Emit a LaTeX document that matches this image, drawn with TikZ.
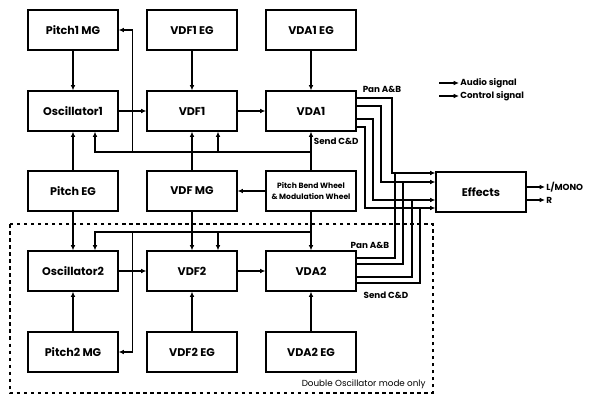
\documentclass[tikz,border=0pt]{standalone}
\usepackage{fontspec}
\setmainfont{Poppins}
\usetikzlibrary{arrows.meta,calc}

\begin{document}
\begin{tikzpicture}[x=0.03cm,y=-0.03cm,>={Latex[length=4.5pt,width=4pt]},
  blk/.style={draw,line width=1pt,minimum width=2.7cm,minimum height=1.2cm,font=\bfseries\fontsize{9.5}{11}\selectfont},
  ctl/.style={->,line width=0.9pt},
  aud/.style={->,line width=1.2pt},
  bus/.style={line width=1.8pt},
  lbl/.style={font=\bfseries\fontsize{7.5}{9}\selectfont,inner sep=1pt}]
  \useasboundingbox (0,0) rectangle (595,395);
  % first oscillator
  \node[blk](p1mg) at (73,30){Pitch1 MG};
  \node[blk](vdf1eg) at (192,30){VDF1 EG};
  \node[blk](vda1eg) at (311,30){VDA1 EG};
  \node[blk](osc1) at (73,111){Oscillator1};
  \node[blk](vdf1) at (192,111){VDF1};
  \node[blk](vda1) at (311,111){VDA1};
  % shared controls
  \node[blk](peg) at (73,191){Pitch EG};
  \node[blk](vdfmg) at (192,191){VDF MG};
  \node[blk,align=center,font=\bfseries\fontsize{6.5}{9}\selectfont](pbw) at (311,191){Pitch Bend Wheel\\\& Modulation Wheel};
  % second oscillator
  \node[blk](osc2) at (73,271){Oscillator2};
  \node[blk](vdf2) at (192,271){VDF2};
  \node[blk](vda2) at (311,271){VDA2};
  \node[blk](p2mg) at (73,352){Pitch2 MG};
  \node[blk](vdf2eg) at (192,352){VDF2 EG};
  \node[blk](vda2eg) at (311,352){VDA2 EG};
  \node[blk](fx) at (481,192){Effects};

  % audio path
  \draw[aud] (osc1)--(vdf1);
  \draw[aud] (vdf1)--(vda1);
  \draw[aud] (osc2)--(vdf2);
  \draw[aud] (vdf2)--(vda2);
  % control inputs
  \draw[ctl] (p1mg)--(osc1);
  \draw[ctl] (vdf1eg)--(vdf1);
  \draw[ctl] (vda1eg)--(vda1);
  \draw[ctl] (peg)--(osc1);
  \draw[ctl] (peg)--(osc2);
  \draw[ctl] (p2mg)--(osc2);
  \draw[ctl] (vdf2eg)--(vdf2);
  \draw[ctl] (vda2eg)--(vda2);
  \draw[ctl] (vdfmg)--(vdf1);
  \draw[ctl] (vdfmg)--(vdf2);
  \draw[ctl] (pbw)--(vdfmg);
  \draw[ctl] (pbw)--(vda1) node[pos=0.75,right,lbl,xshift=1pt]{Send C\&D};
  \draw[ctl] (pbw)--(vda2);
  % wheel bus, upper
  \coordinate (ba) at (311,152);
  \draw[ctl] (ba) -| ($(osc1.south)+(22,0)$);
  \draw[ctl] (ba) -| ($(vdf1.south)+(26,0)$);
  \draw[ctl] (ba) -| ($(p1mg.east)+(14,0)$) -- (p1mg.east);
  % wheel bus, lower
  \coordinate (bb) at (311,232);
  \draw[ctl] (bb) -| ($(osc2.north)+(22,0)$);
  \draw[ctl] (bb) -| ($(vdf2.north)+(26,0)$);
  \draw[ctl] (bb) -| ($(p2mg.east)+(14,0)$) -- (p2mg.east);

  % VDA outputs to effects
  \foreach \dy/\dx/\ey in {-13/-43/-19,-5/-54/-10,8/-62/8,16/-70/16}
    \draw[bus,->] ($(vda1.east)+(0,\dy)$) -| ($(fx.west)+(\dx,\ey)$) -- ($(fx.west)+(0,\ey)$);
  \foreach \dy/\dx/\ey in {-13/-40/-19,-7/-32/-10,6/-23/8,12/-15/16}
    \draw[bus] ($(vda2.east)+(0,\dy)$) -| ($(fx.west)+(\dx,\ey)$);
  \node[lbl](pan1) at (382,89){Pan A\&B};
  \node[lbl](pan2) at (370,245){Pan A\&B};
  \node[lbl](snd2) at (386,295){Send C\&D};

  % outputs
  \node[lbl,right](lmono) at (545,187){L/MONO};
  \node[lbl,right](rout) at (545,200){R};
  \draw[aud] (fx.east |- lmono)--(lmono);
  \draw[aud] (fx.east |- rout)--(rout);

  % legend
  \node[lbl,right](aulg) at (459,83){Audio signal};
  \node[lbl,right](ctlg) at (459,96){Control signal};
  \draw[aud] ($(aulg.west)+(-20,0)$)--(aulg);
  \draw[ctl] ($(ctlg.west)+(-20,0)$)--(ctlg);

  % double oscillator area
  \draw[dashed,line width=0.9pt] (10,224) rectangle (433,393);
  \node[anchor=east,font=\fontsize{7.5}{9}\selectfont,inner sep=1pt](dbl) at (427,384){Double Oscillator mode only};
\end{tikzpicture}
\end{document}
